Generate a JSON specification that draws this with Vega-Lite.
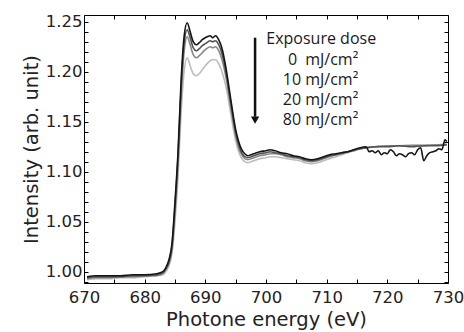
{
  "$schema": "https://vega.github.io/schema/vega-lite/v6.json",
  "width": 364,
  "height": 268,
  "autosize": {"type": "none"},
  "padding": {"left": 84, "top": 15, "right": 16, "bottom": 49},
  "background": "white",
  "config": {
    "view": {"stroke": "black", "strokeWidth": 1},
    "axis": {"domain": false, "grid": false, "tickColor": "black", "tickSize": -4, "tickWidth": 1, "labelFont": "DejaVu Sans", "labelFontSize": 16.5, "labelColor": "#222", "titleFont": "DejaVu Sans", "titleFontSize": 19.5, "titleFontWeight": "normal", "titleColor": "#222"}
  },
  "datasets": {
    "spectra": [
      {"E":670.5,"I":0.992,"dose":"80"},{"E":672,"I":0.993,"dose":"80"},{"E":674,"I":0.993,"dose":"80"},{"E":676,"I":0.994,"dose":"80"},{"E":678,"I":0.994,"dose":"80"},{"E":680,"I":0.995,"dose":"80"},{"E":682,"I":0.996,"dose":"80"},{"E":683,"I":0.997,"dose":"80"},{"E":683.5,"I":1.000,"dose":"80"},{"E":684,"I":1.006,"dose":"80"},{"E":684.5,"I":1.018,"dose":"80"},{"E":685,"I":1.050,"dose":"80"},{"E":685.5,"I":1.095,"dose":"80"},{"E":686,"I":1.158,"dose":"80"},{"E":686.5,"I":1.200,"dose":"80"},{"E":687,"I":1.214,"dose":"80"},{"E":687.5,"I":1.206,"dose":"80"},{"E":688,"I":1.198,"dose":"80"},{"E":688.5,"I":1.196,"dose":"80"},{"E":689,"I":1.198,"dose":"80"},{"E":689.5,"I":1.202,"dose":"80"},{"E":690,"I":1.206,"dose":"80"},{"E":690.8,"I":1.211,"dose":"80"},{"E":691.2,"I":1.212,"dose":"80"},{"E":691.7,"I":1.212,"dose":"80"},{"E":692.2,"I":1.208,"dose":"80"},{"E":692.8,"I":1.199,"dose":"80"},{"E":693.5,"I":1.182,"dose":"80"},{"E":694,"I":1.165,"dose":"80"},{"E":694.5,"I":1.147,"dose":"80"},{"E":695,"I":1.131,"dose":"80"},{"E":695.5,"I":1.120,"dose":"80"},{"E":696,"I":1.113,"dose":"80"},{"E":696.5,"I":1.110,"dose":"80"},{"E":697,"I":1.109,"dose":"80"},{"E":697.5,"I":1.110,"dose":"80"},{"E":698,"I":1.111,"dose":"80"},{"E":699,"I":1.113,"dose":"80"},{"E":700,"I":1.114,"dose":"80"},{"E":700.7,"I":1.115,"dose":"80"},{"E":701.5,"I":1.115,"dose":"80"},{"E":702.5,"I":1.114,"dose":"80"},{"E":703.5,"I":1.113,"dose":"80"},{"E":704.5,"I":1.112,"dose":"80"},{"E":705.5,"I":1.111,"dose":"80"},{"E":706.5,"I":1.109,"dose":"80"},{"E":707.5,"I":1.108,"dose":"80"},{"E":708.5,"I":1.109,"dose":"80"},{"E":709.5,"I":1.111,"dose":"80"},{"E":710.5,"I":1.113,"dose":"80"},{"E":711.5,"I":1.115,"dose":"80"},{"E":712.5,"I":1.117,"dose":"80"},{"E":713.5,"I":1.119,"dose":"80"},{"E":714.5,"I":1.121,"dose":"80"},{"E":715.5,"I":1.123,"dose":"80"},{"E":716.5,"I":1.124,"dose":"80"},{"E":718,"I":1.125,"dose":"80"},{"E":720,"I":1.126,"dose":"80"},{"E":722,"I":1.126,"dose":"80"},{"E":724,"I":1.127,"dose":"80"},{"E":726,"I":1.127,"dose":"80"},{"E":728,"I":1.127,"dose":"80"},{"E":729.8,"I":1.128,"dose":"80"},

      {"E":670.5,"I":0.993,"dose":"20"},{"E":672,"I":0.994,"dose":"20"},{"E":674,"I":0.994,"dose":"20"},{"E":676,"I":0.995,"dose":"20"},{"E":678,"I":0.995,"dose":"20"},{"E":680,"I":0.996,"dose":"20"},{"E":682,"I":0.996,"dose":"20"},{"E":683,"I":0.998,"dose":"20"},{"E":683.5,"I":1.002,"dose":"20"},{"E":684,"I":1.008,"dose":"20"},{"E":684.5,"I":1.022,"dose":"20"},{"E":685,"I":1.060,"dose":"20"},{"E":685.5,"I":1.108,"dose":"20"},{"E":686,"I":1.175,"dose":"20"},{"E":686.5,"I":1.220,"dose":"20"},{"E":687,"I":1.235,"dose":"20"},{"E":687.5,"I":1.227,"dose":"20"},{"E":688,"I":1.217,"dose":"20"},{"E":688.5,"I":1.214,"dose":"20"},{"E":689,"I":1.216,"dose":"20"},{"E":689.5,"I":1.219,"dose":"20"},{"E":690,"I":1.222,"dose":"20"},{"E":690.8,"I":1.225,"dose":"20"},{"E":691.2,"I":1.224,"dose":"20"},{"E":691.7,"I":1.225,"dose":"20"},{"E":692.2,"I":1.221,"dose":"20"},{"E":692.8,"I":1.211,"dose":"20"},{"E":693.5,"I":1.191,"dose":"20"},{"E":694,"I":1.172,"dose":"20"},{"E":694.5,"I":1.153,"dose":"20"},{"E":695,"I":1.136,"dose":"20"},{"E":695.5,"I":1.124,"dose":"20"},{"E":696,"I":1.117,"dose":"20"},{"E":696.5,"I":1.113,"dose":"20"},{"E":697,"I":1.112,"dose":"20"},{"E":697.5,"I":1.113,"dose":"20"},{"E":698,"I":1.114,"dose":"20"},{"E":699,"I":1.116,"dose":"20"},{"E":700,"I":1.117,"dose":"20"},{"E":700.7,"I":1.118,"dose":"20"},{"E":701.5,"I":1.118,"dose":"20"},{"E":702.5,"I":1.117,"dose":"20"},{"E":703.5,"I":1.115,"dose":"20"},{"E":704.5,"I":1.114,"dose":"20"},{"E":705.5,"I":1.113,"dose":"20"},{"E":706.5,"I":1.111,"dose":"20"},{"E":707.5,"I":1.110,"dose":"20"},{"E":708.5,"I":1.111,"dose":"20"},{"E":709.5,"I":1.113,"dose":"20"},{"E":710.5,"I":1.115,"dose":"20"},{"E":711.5,"I":1.117,"dose":"20"},{"E":712.5,"I":1.118,"dose":"20"},{"E":713.5,"I":1.120,"dose":"20"},{"E":714.5,"I":1.121,"dose":"20"},{"E":715.5,"I":1.123,"dose":"20"},{"E":716.5,"I":1.124,"dose":"20"},{"E":718,"I":1.125,"dose":"20"},{"E":720,"I":1.126,"dose":"20"},{"E":722,"I":1.126,"dose":"20"},{"E":724,"I":1.126,"dose":"20"},{"E":726,"I":1.126,"dose":"20"},{"E":728,"I":1.127,"dose":"20"},{"E":729.8,"I":1.127,"dose":"20"},

      {"E":670.5,"I":0.994,"dose":"10"},{"E":672,"I":0.995,"dose":"10"},{"E":674,"I":0.995,"dose":"10"},{"E":676,"I":0.995,"dose":"10"},{"E":678,"I":0.996,"dose":"10"},{"E":680,"I":0.996,"dose":"10"},{"E":682,"I":0.997,"dose":"10"},{"E":683,"I":0.999,"dose":"10"},{"E":683.5,"I":1.003,"dose":"10"},{"E":684,"I":1.010,"dose":"10"},{"E":684.5,"I":1.025,"dose":"10"},{"E":685,"I":1.065,"dose":"10"},{"E":685.5,"I":1.115,"dose":"10"},{"E":686,"I":1.183,"dose":"10"},{"E":686.5,"I":1.228,"dose":"10"},{"E":687,"I":1.242,"dose":"10"},{"E":687.5,"I":1.234,"dose":"10"},{"E":688,"I":1.224,"dose":"10"},{"E":688.5,"I":1.221,"dose":"10"},{"E":689,"I":1.223,"dose":"10"},{"E":689.5,"I":1.226,"dose":"10"},{"E":690,"I":1.228,"dose":"10"},{"E":690.8,"I":1.231,"dose":"10"},{"E":691.2,"I":1.230,"dose":"10"},{"E":691.7,"I":1.231,"dose":"10"},{"E":692.2,"I":1.227,"dose":"10"},{"E":692.8,"I":1.217,"dose":"10"},{"E":693.5,"I":1.196,"dose":"10"},{"E":694,"I":1.176,"dose":"10"},{"E":694.5,"I":1.157,"dose":"10"},{"E":695,"I":1.139,"dose":"10"},{"E":695.5,"I":1.127,"dose":"10"},{"E":696,"I":1.119,"dose":"10"},{"E":696.5,"I":1.115,"dose":"10"},{"E":697,"I":1.114,"dose":"10"},{"E":697.5,"I":1.115,"dose":"10"},{"E":698,"I":1.116,"dose":"10"},{"E":699,"I":1.118,"dose":"10"},{"E":700,"I":1.119,"dose":"10"},{"E":700.7,"I":1.120,"dose":"10"},{"E":701.5,"I":1.119,"dose":"10"},{"E":702.5,"I":1.118,"dose":"10"},{"E":703.5,"I":1.116,"dose":"10"},{"E":704.5,"I":1.115,"dose":"10"},{"E":705.5,"I":1.114,"dose":"10"},{"E":706.5,"I":1.112,"dose":"10"},{"E":707.5,"I":1.111,"dose":"10"},{"E":708.5,"I":1.112,"dose":"10"},{"E":709.5,"I":1.114,"dose":"10"},{"E":710.5,"I":1.116,"dose":"10"},{"E":711.5,"I":1.117,"dose":"10"},{"E":712.5,"I":1.119,"dose":"10"},{"E":713.5,"I":1.120,"dose":"10"},{"E":714.5,"I":1.122,"dose":"10"},{"E":715.5,"I":1.123,"dose":"10"},{"E":716.5,"I":1.124,"dose":"10"},{"E":718,"I":1.125,"dose":"10"},{"E":720,"I":1.125,"dose":"10"},{"E":722,"I":1.126,"dose":"10"},{"E":724,"I":1.125,"dose":"10"},{"E":726,"I":1.126,"dose":"10"},{"E":728,"I":1.126,"dose":"10"},{"E":729.8,"I":1.127,"dose":"10"},

      {"E":670.5,"I":0.995,"dose":"0"},{"E":672,"I":0.996,"dose":"0"},{"E":674,"I":0.996,"dose":"0"},{"E":676,"I":0.996,"dose":"0"},{"E":678,"I":0.997,"dose":"0"},{"E":680,"I":0.997,"dose":"0"},{"E":682,"I":0.998,"dose":"0"},{"E":683,"I":1.000,"dose":"0"},{"E":683.5,"I":1.004,"dose":"0"},{"E":684,"I":1.012,"dose":"0"},{"E":684.5,"I":1.028,"dose":"0"},{"E":685,"I":1.070,"dose":"0"},{"E":685.5,"I":1.120,"dose":"0"},{"E":686,"I":1.190,"dose":"0"},{"E":686.5,"I":1.235,"dose":"0"},{"E":687,"I":1.249,"dose":"0"},{"E":687.5,"I":1.240,"dose":"0"},{"E":688,"I":1.230,"dose":"0"},{"E":688.5,"I":1.227,"dose":"0"},{"E":689,"I":1.229,"dose":"0"},{"E":689.5,"I":1.232,"dose":"0"},{"E":690,"I":1.234,"dose":"0"},{"E":690.8,"I":1.236,"dose":"0"},{"E":691.2,"I":1.234,"dose":"0"},{"E":691.7,"I":1.236,"dose":"0"},{"E":692.2,"I":1.232,"dose":"0"},{"E":692.8,"I":1.222,"dose":"0"},{"E":693.5,"I":1.200,"dose":"0"},{"E":694,"I":1.180,"dose":"0"},{"E":694.5,"I":1.160,"dose":"0"},{"E":695,"I":1.142,"dose":"0"},{"E":695.5,"I":1.130,"dose":"0"},{"E":696,"I":1.122,"dose":"0"},{"E":696.5,"I":1.118,"dose":"0"},{"E":697,"I":1.116,"dose":"0"},{"E":697.5,"I":1.117,"dose":"0"},{"E":698,"I":1.118,"dose":"0"},{"E":699,"I":1.120,"dose":"0"},{"E":700,"I":1.121,"dose":"0"},{"E":700.7,"I":1.122,"dose":"0"},{"E":701.5,"I":1.121,"dose":"0"},{"E":702.5,"I":1.119,"dose":"0"},{"E":703.5,"I":1.118,"dose":"0"},{"E":704.5,"I":1.116,"dose":"0"},{"E":705.5,"I":1.115,"dose":"0"},{"E":706.5,"I":1.113,"dose":"0"},{"E":707.5,"I":1.112,"dose":"0"},{"E":708.5,"I":1.113,"dose":"0"},{"E":709.5,"I":1.115,"dose":"0"},{"E":710.5,"I":1.117,"dose":"0"},{"E":711.5,"I":1.118,"dose":"0"},{"E":712.5,"I":1.119,"dose":"0"},{"E":713.5,"I":1.120,"dose":"0"},{"E":714.5,"I":1.122,"dose":"0"},{"E":715.5,"I":1.124,"dose":"0"},{"E":716.5,"I":1.125,"dose":"0"},{"E":717,"I":1.120,"dose":"0"},{"E":717.5,"I":1.121,"dose":"0"},{"E":718,"I":1.119,"dose":"0"},{"E":718.5,"I":1.121,"dose":"0"},{"E":719,"I":1.117,"dose":"0"},{"E":719.5,"I":1.119,"dose":"0"},{"E":720,"I":1.118,"dose":"0"},{"E":720.5,"I":1.122,"dose":"0"},{"E":721,"I":1.120,"dose":"0"},{"E":721.5,"I":1.116,"dose":"0"},{"E":722,"I":1.118,"dose":"0"},{"E":722.5,"I":1.117,"dose":"0"},{"E":723,"I":1.115,"dose":"0"},{"E":723.5,"I":1.118,"dose":"0"},{"E":724,"I":1.119,"dose":"0"},{"E":724.5,"I":1.117,"dose":"0"},{"E":725,"I":1.122,"dose":"0"},{"E":725.5,"I":1.124,"dose":"0"},{"E":726,"I":1.111,"dose":"0"},{"E":726.5,"I":1.116,"dose":"0"},{"E":727,"I":1.119,"dose":"0"},{"E":727.5,"I":1.120,"dose":"0"},{"E":728,"I":1.121,"dose":"0"},{"E":728.5,"I":1.123,"dose":"0"},{"E":729,"I":1.122,"dose":"0"},{"E":729.5,"I":1.132,"dose":"0"},{"E":729.8,"I":1.130,"dose":"0"}
    ],
    "heading": [
      {"tx": 709.1, "ty": 1.2325, "label": "Exposure dose"}
    ],
    "doses": [
      {"tx": 715.2, "ty": 1.2117, "label": "0\u2002mJ/cm²"},
      {"tx": 715.2, "ty": 1.1917, "label": "10 mJ/cm²"},
      {"tx": 715.2, "ty": 1.1717, "label": "20 mJ/cm²"},
      {"tx": 715.2, "ty": 1.1517, "label": "80 mJ/cm²"}
    ],
    "arrow": [
      {"ax": 698.2, "ay1": 1.234, "ay2": 1.155, "hy": 1.1515}
    ]
  },
  "resolve": {"axis": {"x": "independent", "y": "independent"}},
  "layer": [
    {
      "data": {"name": "spectra"},
      "mark": {"type": "line", "strokeWidth": 1.6, "interpolate": "monotone"},
      "encoding": {
        "x": {"field": "E", "type": "quantitative", "scale": {"domain": [670, 730], "nice": false, "zero": false},
              "axis": {"orient": "bottom", "title": "Photone energy (eV)", "values": [670,675,680,685,690,695,700,705,710,715,720,725,730], "labelExpr": "datum.value % 10 === 0 ? datum.label : ''", "labelPadding": 10, "titlePadding": 5, "labelFlush": false}},
        "y": {"field": "I", "type": "quantitative", "scale": {"domain": [0.9887, 1.2567], "nice": false, "zero": false},
              "axis": {"orient": "left", "title": "Intensity (arb. unit)", "format": ".2f", "values": [0.99,1.0,1.01,1.02,1.03,1.04,1.05,1.06,1.07,1.08,1.09,1.1,1.11,1.12,1.13,1.14,1.15,1.16,1.17,1.18,1.19,1.2,1.21,1.22,1.23,1.24,1.25], "labelExpr": "round(datum.value*100) % 5 === 0 ? datum.label : ''", "labelPadding": 6, "titlePadding": 4}},
        "color": {"field": "dose", "type": "nominal", "scale": {"domain": ["80", "20", "10", "0"], "range": ["#bcbcbc", "#878787", "#525252", "#151515"]}, "legend": null}
      }
    },
    {
      "data": {"name": "heading"},
      "mark": {"type": "text", "font": "Open Sans", "fontSize": 16, "color": "#1a1a1a", "align": "center", "baseline": "middle"},
      "encoding": {
        "x": {"field": "tx", "type": "quantitative", "axis": {"orient": "top", "title": null, "labels": false, "values": [670,675,680,685,690,695,700,705,710,715,720,725,730]}},
        "y": {"field": "ty", "type": "quantitative", "axis": {"orient": "right", "title": null, "labels": false, "values": [0.99,1.0,1.01,1.02,1.03,1.04,1.05,1.06,1.07,1.08,1.09,1.1,1.11,1.12,1.13,1.14,1.15,1.16,1.17,1.18,1.19,1.2,1.21,1.22,1.23,1.24,1.25]}},
        "text": {"field": "label"}
      }
    },
    {
      "data": {"name": "doses"},
      "mark": {"type": "text", "font": "Open Sans", "fontSize": 16, "color": "#1a1a1a", "align": "right", "baseline": "middle"},
      "encoding": {
        "x": {"field": "tx", "type": "quantitative", "axis": null},
        "y": {"field": "ty", "type": "quantitative", "axis": null},
        "text": {"field": "label"}
      }
    },
    {
      "data": {"name": "arrow"},
      "mark": {"type": "rule", "strokeWidth": 2.5, "color": "#111"},
      "encoding": {
        "x": {"field": "ax", "type": "quantitative", "axis": null},
        "y": {"field": "ay1", "type": "quantitative", "axis": null},
        "y2": {"field": "ay2"}
      }
    },
    {
      "data": {"name": "arrow"},
      "mark": {"type": "point", "shape": "triangle-down", "filled": true, "size": 70, "color": "#111", "opacity": 1},
      "encoding": {
        "x": {"field": "ax", "type": "quantitative", "axis": null},
        "y": {"field": "hy", "type": "quantitative", "axis": null}
      }
    }
  ]
}
